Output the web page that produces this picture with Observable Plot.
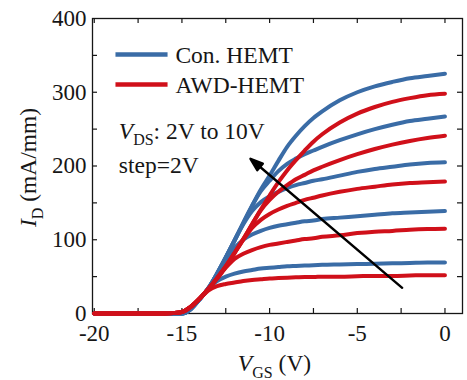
<!DOCTYPE html>
<html><head><meta charset="utf-8">
<script src="https://cdn.jsdelivr.net/npm/d3@7"></script>
<script src="https://cdn.jsdelivr.net/npm/@observablehq/plot@0.6"></script>
<style>body{margin:0;background:#fff}svg{display:block}</style>
</head><body><div id="chart"></div>
<script>
// ---- data ----
const vgs = [-20,-16,-15.5,-15,-14.5,-14,-13.5,-13,-12.5,-12,-11.5,-11,-10.5,-10,-9.5,-9,-8.5,-8,-7.5,-7,-6,-5,-4,-3,-2,-1,0];
// Con. HEMT, VDS = 2..10 V
const con2  = [0,0,0,0,6,19,33,44,50,54,57,59,61,62,63,64,64.5,65,65.5,66,66.5,67,67.5,68,68.5,69,69];
const con4  = [0,0,0,0,6,19,34,53,73,89,100,107,112,116,119,121,123,125,126,128,130,132,134,136,137,138,139];
const con6  = [0,0,0,0,6,19,34,54,76,99,121,139,151,159,165,170,174,177,180,182,187,192,196,199,202,204,205];
const con8  = [0,0,0,0,6,19,34,54,76,99,123,146,166,180,193,203,210,216,221,226,235,243,250,256,261,264,267];
const con10 = [0,0,0,0,6,19,34,54,76,99,123,146,168,187,207,226,241,254,265,274,289,300,308,314,319,322,325];
// AWD-HEMT, VDS = 2..10 V
const awd2  = [0,0,0.5,2,9,20,31,37,40,42,44,45.5,46.5,47.5,48,48.5,49,49.5,49.5,50,50,50.5,51,51,51.5,52,52];
const awd4  = [0,0,0.5,2,9,20,33,47,62,74,81,86,90,93,95,97,99,101,102,104,106,109,111,112,113.5,114.5,115];
const awd6  = [0,0,0.5,2,9,20,33,48,64,82,100,116,127,135,141,146,150,154,157,160,165,169,172,175,177,178,179];
const awd8  = [0,0,0.5,2,9,20,33,48,64,82,101,121,140,154,165,174,182,188,194,199,208,216,223,229,234,238,241];
const awd10 = [0,0,0.5,2,9,20,33,48,64,82,101,121,141,160,178,194,208,221,233,243,259,271,280,287,292,296,298];
const vdsSteps = [2,4,6,8,10];
const conSeries = [con2,con4,con6,con8,con10];
const awdSeries = [awd2,awd4,awd6,awd8,awd10];
const seriesNames = ["Con. HEMT","AWD-HEMT"];
const seriesColors = ["#3a6ca6","#d0101a"];
const xLabelTicks = [-20,-15,-10,-5,0];
const xMinorTicks = [-20,-17.5,-15,-12.5,-10,-7.5,-5,-2.5,0];
const yLabelTicks = [0,100,200,300,400];
const yMinorTicks = [50,100,150,200,250,300,350];
const arrowTail = [-2.44, 34.8];
const arrowTip = [-11.09, 209.8];
const annotationLines = ["VDS: 2V to 10V","step=2V"];

// ---- layout ----
const W = 467, H = 380, mL = 92, mR = 5, mT = 18, mB = 67;
const xDomain = [-20.1, 1.0], yDomain = [0, 400];
const kx = (W - mL - mR) / (xDomain[1] - xDomain[0]);
const ky = (H - mT - mB) / (yDomain[1] - yDomain[0]);
const tickX = 5 / kx, tickY = 5 / ky;
const ink = "#161616";
const serifFont = "Liberation Serif";

const rows = [];
[conSeries, awdSeries].forEach((ser, si) => ser.forEach((vals, k) => vals.forEach((v, i) =>
  rows.push({series: seriesNames[si], vds: vdsSteps[k], vgs: vgs[i], id: v}))));

// arrow geometry in pixels
const adx = (arrowTip[0] - arrowTail[0]) * kx;
const ady = -(arrowTip[1] - arrowTail[1]) * ky;
const arrowLen = Math.hypot(adx, ady);
const arrowAngle = Math.atan2(adx, -ady) * 180 / Math.PI;
const arrowShape = {draw(ctx, l) {
  ctx.moveTo(0, 0); ctx.lineTo(0, -l + 10);
  ctx.moveTo(0, -l); ctx.lineTo(-4.3, -l + 12.5); ctx.lineTo(4.3, -l + 12.5); ctx.closePath();
}};

const legendLineY = [351.2, 310.5];
const legendTextY = [349.8, 308.8];
const txt = {fontFamily: serifFont, fill: ink, fontSize: 23.5};

const marks = [
  Plot.frame({stroke: ink, strokeWidth: 1.3}),
  Plot.ruleX(xMinorTicks, {x: d => d, y1: yDomain[0], y2: yDomain[0] + tickY, stroke: ink, strokeWidth: 1.2}),
  Plot.ruleX(xMinorTicks, {x: d => d, y1: yDomain[1], y2: yDomain[1] - tickY, stroke: ink, strokeWidth: 1.2}),
  Plot.ruleY(yMinorTicks, {y: d => d, x1: xDomain[0], x2: xDomain[0] + tickX, stroke: ink, strokeWidth: 1.2}),
  Plot.ruleY(yMinorTicks, {y: d => d, x1: xDomain[1], x2: xDomain[1] - tickX, stroke: ink, strokeWidth: 1.2}),
  Plot.axisX({ticks: xLabelTicks, anchor: "bottom", tickSize: 0, tickPadding: 11, tickFormat: d => String(d), label: null, fontSize: 23, fontFamily: serifFont, fill: ink}),
  Plot.axisY({ticks: yLabelTicks, anchor: "left", tickSize: 0, tickPadding: 6, tickFormat: d => String(d), label: null, fontSize: 23, fontFamily: serifFont, fill: ink}),
  Plot.line(rows.filter(d => d.series === seriesNames[0]), {x: "vgs", y: "id", z: "vds", stroke: seriesColors[0], strokeWidth: 4, curve: "monotone-x", strokeLinejoin: "round"}),
  Plot.line(rows.filter(d => d.series === seriesNames[1]), {x: "vgs", y: "id", z: "vds", stroke: seriesColors[1], strokeWidth: 4, curve: "monotone-x", strokeLinejoin: "round"}),
  Plot.vector([arrowTail], {x: d => d[0], y: d => d[1], length: arrowLen, rotate: arrowAngle, anchor: "start", shape: arrowShape, stroke: "#000", fill: "#000", strokeWidth: 2.4}),
  Plot.text(annotationLines, {x: -18.6, y: [247.5, 200.4], text: d => d, textAnchor: "start", lineAnchor: "middle", ...txt}),
  Plot.text(["VGS (V)"], {x: -9.72, frameAnchor: "bottom", dy: 49.6, text: d => d, textAnchor: "middle", lineAnchor: "middle", ...txt}),
  Plot.text(["ID (mA/mm)"], {y: 198, frameAnchor: "left", dx: -64.4, rotate: -90, text: d => d, textAnchor: "middle", lineAnchor: "middle", ...txt})
];
seriesNames.forEach((name, i) => {
  marks.push(Plot.link([name], {x1: -18.79, x2: -15.82, y1: legendLineY[i], y2: legendLineY[i], stroke: seriesColors[i], strokeWidth: 4.5}));
  marks.push(Plot.text([name], {x: -15.37, y: legendTextY[i], text: d => d, textAnchor: "start", lineAnchor: "middle", ...txt}));
});

const chart = Plot.plot({
  width: W, height: H, marginLeft: mL, marginRight: mR, marginTop: mT, marginBottom: mB,
  style: {fontFamily: serifFont, fontSize: "23px", background: "#fff", color: ink},
  x: {domain: xDomain},
  y: {domain: yDomain},
  marks
});
document.getElementById("chart").appendChild(chart);

// rich text: italics and subscripts
const NS = "http://www.w3.org/2000/svg";
function rich(t, parts) {
  while (t.firstChild) t.removeChild(t.firstChild);
  parts.forEach(([s, kind]) => {
    const ts = document.createElementNS(NS, "tspan");
    ts.textContent = s;
    if (kind === "it") ts.setAttribute("font-style", "italic");
    if (kind === "sub") { ts.setAttribute("font-size", "16"); ts.setAttribute("dy", "7"); }
    if (kind === "up") ts.setAttribute("dy", "-7");
    t.appendChild(ts);
  });
}
chart.querySelectorAll("text").forEach(t => {
  t.setAttribute("font-family", "Liberation Serif, Times New Roman, serif");
  t.style.fontFamily = "'Liberation Serif', 'Times New Roman', serif";
  const s = t.textContent;
  if (s === "VDS: 2V to 10V") rich(t, [["V","it"],["DS","sub"],[": 2V to 10V","up"]]);
  else if (s === "VGS (V)") rich(t, [["V","it"],["GS","sub"],[" (V)","up"]]);
  else if (s === "ID (mA/mm)") rich(t, [["I","it"],["D","sub"],[" (mA/mm)","up"]]);
});
</script>
</body></html>
